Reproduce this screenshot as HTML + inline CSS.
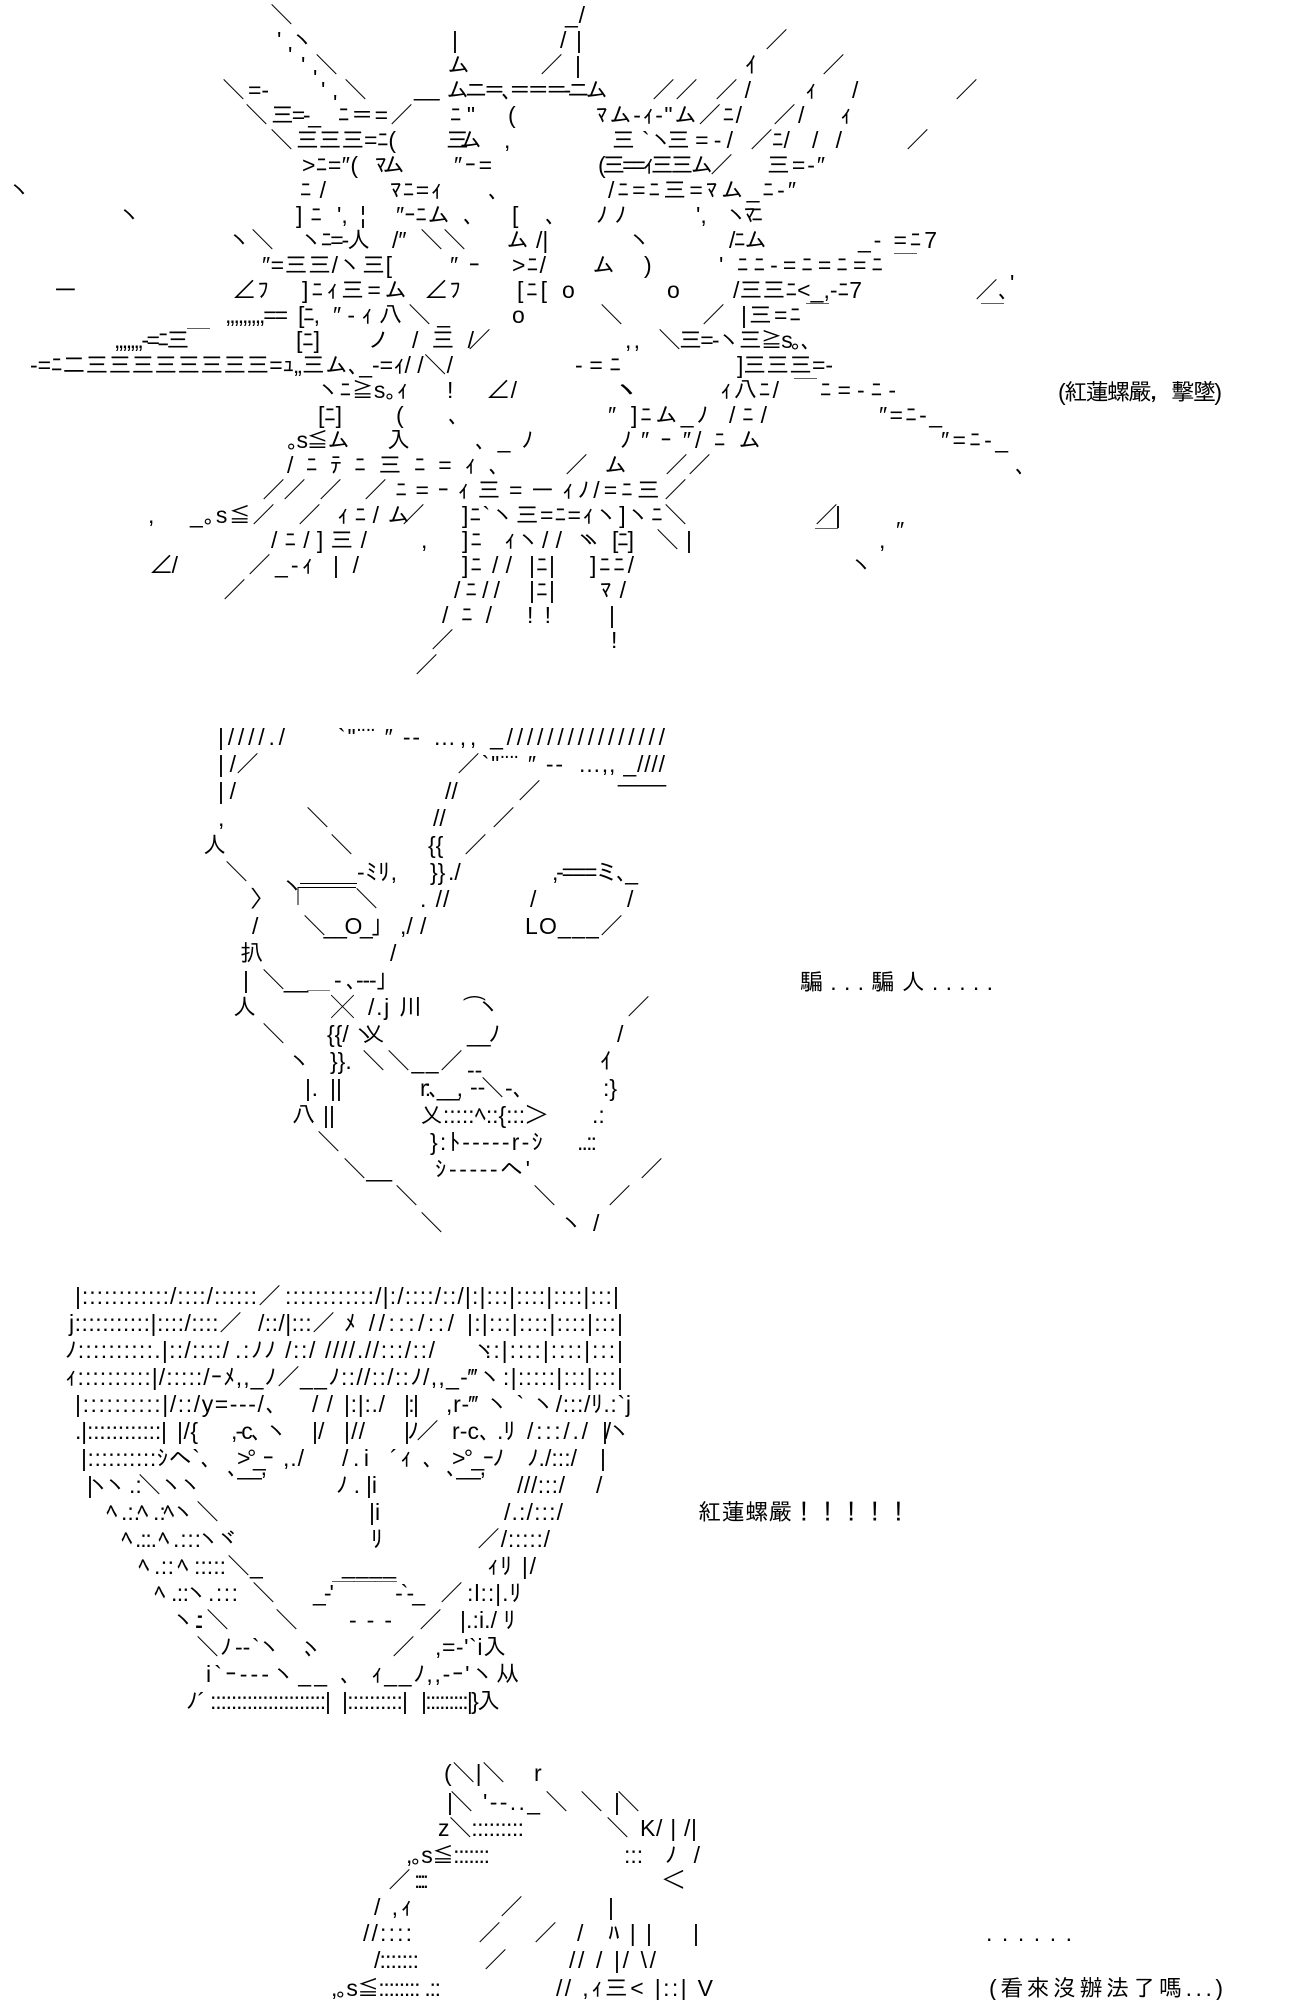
<!DOCTYPE html>
<html><head><meta charset="utf-8"><style>
html,body{margin:0;padding:0;background:#fff;width:1300px;height:2000px;overflow:hidden}
svg{display:block}
text{font-family:"Liberation Sans","IPAGothic","Noto Sans CJK JP",sans-serif;font-size:23px;fill:#000;white-space:pre}
</style></head><body>
<svg xmlns="http://www.w3.org/2000/svg" width="1300" height="2000" viewBox="0 0 1300 2000">
<!-- Section 1 -->
<g transform="translate(0,23)"><text x="270">＼</text><text x="565" textLength="20">_/</text></g>
<g transform="translate(0,48)"><text x="277">'</text><text x="291">ヽ</text><text x="452">|</text><text x="560" textLength="22">/|</text><text x="765">／</text></g>
<g transform="translate(0,73)"><text x="288" y="-10">'</text><text x="301">'</text><text x="315">＼</text><text x="447">ム</text><text x="540">／</text><text x="575">|</text><text x="745">ｲ</text><text x="822">／</text></g>
<g transform="translate(0,98)"><text x="313" y="-12">'</text><text x="321">'</text><text x="333" y="13">'</text><text x="222">＼</text><text x="248">=-</text><text x="344">＼</text><text x="414" y="-2">__</text><text x="446" textLength="162">ムニ＝､＝＝＝-ニム</text><text x="652" textLength="46">／／</text><text x="715" textLength="36">／/</text><text x="805">ｨ</text><text x="852">/</text><text x="955">／</text></g>
<g transform="translate(0,123)"><text x="245">＼</text><text x="271" textLength="50">三=-_</text><text x="338" textLength="50">ﾆ＝=</text><text x="390">／</text><text x="450" textLength="25">ﾆ"</text><text x="508">(</text><text x="596" textLength="146">ﾏム-ｨ‐"ム／ﾆ/</text><text x="773">／</text><text x="798">/</text><text x="840">ｨ</text></g>
<g transform="translate(0,148)"><text x="270">＼</text><text x="296" textLength="100">三三三=ﾆ(</text><text x="446" textLength="36">三ム</text><text x="504">,</text><text x="612">三</text><text x="642">`ヽ</text><text x="667" textLength="66">三=-/</text><text x="750">／</text><text x="772">ﾆ/</text><text x="812" textLength="30">/ /</text><text x="906">／</text></g>
<g transform="translate(0,173)"><text x="302" textLength="56">&gt;ﾆ=″(</text><text x="375" textLength="30">ﾏム</text><text x="454" textLength="38">″ｰ=</text><text x="598" textLength="135">(三==ｨ三三ム／</text><text x="767" textLength="58">三=-″</text></g>
<g transform="translate(0,198)"><text x="8">ヽ</text><text x="300" textLength="26">ﾆ/</text><text x="390" textLength="52">ﾏﾆ=ｨ</text><text x="488">､</text><text x="608" textLength="188">/ﾆ=ﾆ三=ﾏム_ﾆ-″</text></g>
<g transform="translate(0,223)"><text x="118">ヽ</text><text x="296" textLength="26">]ﾆ</text><text x="337">',</text><text x="360">¦</text><text x="396" textLength="54">″ｰﾆム</text><text x="463">､</text><text x="512">[</text><text x="545">､</text><text x="596" textLength="30">ﾉﾉ</text><text x="696">',</text><text x="725" textLength="38">ヽﾏﾆ</text></g>
<g transform="translate(0,248)"><text x="228">ヽ＼</text><text x="300" textLength="70">ヽﾆ=-人</text><text x="392">/″</text><text x="420" textLength="46">＼＼</text><text x="506">ム</text><text x="536">/|</text><text x="628">ヽ</text><text x="729" textLength="38">/ﾆム</text><text x="858" textLength="79">_- =ﾆ7</text></g>
<g transform="translate(0,273)"><text x="262" textLength="130">″=三三/ヽ三[</text><text x="450" textLength="30">″ｰ</text><text x="512" textLength="34">&gt;ﾆ/</text><text x="592">ム</text><text x="644">)</text><text x="719">'</text><text x="737" textLength="146">ﾆﾆ-=ﾆ=ﾆ=ﾆ</text><text x="894">￣</text></g>
<g transform="translate(0,298)"><text x="54">ー</text><text x="233" textLength="36">∠ﾌ</text><text x="302" textLength="105">]ﾆｨ三=ム</text><text x="425" textLength="36">∠ﾌ</text><text x="517" textLength="30">[ﾆ[</text><text x="562">o</text><text x="667">o</text><text x="733" textLength="129">/三三ﾆ&lt;_,-ﾆ7</text><text x="975">／</text><text x="1010" y="-7">'</text><text x="998">､</text></g>
<g transform="translate(0,323)"><text x="225" textLength="63">,,,,,,,,,==</text><text x="298" textLength="22">[ﾆ,</text><text x="333" textLength="117">″-ｨ八＼_</text><text x="512">o</text><text x="600">＼</text><text x="702">／</text><text x="741" textLength="60">|三=ﾆ</text><text x="806">￣</text><text x="981">￣</text></g>
<g transform="translate(0,348)"><text x="114" textLength="96">,,,,,,,-=ﾆ三￣</text><text x="296" textLength="24">[ﾆ]</text><text x="367">ノ</text><text x="412" textLength="62">/三/</text><text x="468">／</text><text x="625" textLength="15">, ,</text><text x="658" textLength="154">＼三=-ヽ三≧s｡､</text></g>
<g transform="translate(0,373)"><text x="30" textLength="423">-=ﾆ二三三三三三三三三=ｭ„三ム､_-=ｨ/ /＼/</text><text x="575" textLength="46">-=ﾆ</text><text x="737" textLength="96">]三三三=-</text></g>
<g transform="translate(0,398)"><text x="317" textLength="91">ヽﾆ≧s｡ｨ</text><text x="447">!</text><text x="487" textLength="30">∠/</text><text x="615" textLength="24">ヽヽ</text><text x="720" textLength="59">ｨ八ﾆ/</text><text x="820" textLength="76">ﾆ=-ﾆ-</text><text x="794">￣</text><text x="1058" y="2" textLength="164">(紅蓮螺嚴，擊墜)</text></g>
<g transform="translate(0,423)"><text x="318" textLength="24">[ﾆ]</text><text x="396">(</text><text x="448">､</text><text x="608">″</text><text x="631" textLength="77">]ﾆム_ﾉ</text><text x="729" textLength="38">/ﾆ/</text><text x="879" textLength="63">″=ﾆ-_</text></g>
<g transform="translate(0,448)"><text x="287" textLength="63">｡s≦ム</text><text x="387">入</text><text x="475" textLength="58">､_ﾉ</text><text x="620">ﾉ</text><text x="641" textLength="50">″ｰ″</text><text x="695" textLength="66">/ﾆム</text><text x="941" textLength="67">″=ﾆ-_</text></g>
<g transform="translate(0,473)"><text x="287" textLength="213">/ﾆﾃﾆ三ﾆ=ｨ､</text><text x="565">／</text><text x="604">ム</text><text x="665">／／</text><text x="1015">､</text></g>
<g transform="translate(0,498)"><text x="262" textLength="44">／／</text><text x="319">／</text><text x="364" textLength="190">／ﾆ=ｰｨ三=ー</text><text x="562" textLength="125">ｨﾉ/=ﾆ三／</text></g>
<g transform="translate(0,523)"><text x="148">,</text><text x="190" textLength="85">_｡s≦／</text><text x="298">／</text><text x="337" textLength="42">ｨﾆ/</text><text x="387" textLength="38">ム／</text><text x="462" textLength="225">]ﾆ`ヽ三=ﾆ=ｨヽ]ヽﾆ＼</text><text x="815" textLength="26">／|</text><text x="815" y="25">￣</text></g>
<g transform="translate(0,548)"><text x="271" textLength="96">/ﾆ/]三/</text><text x="421">,</text><text x="462" textLength="20">]ﾆ</text><text x="504" textLength="36">ｨヽ</text><text x="542" textLength="20">//</text><text x="575" textLength="28">ヽヽ</text><text x="612" textLength="22">[ﾆ]</text><text x="656" textLength="36">＼|</text><text x="896" y="-10">″</text><text x="879">,</text></g>
<g transform="translate(0,573)"><text x="150" textLength="28">∠/</text><text x="248">／</text><text x="275" textLength="38">_-ｨ</text><text x="333" textLength="26">|/</text><text x="462" textLength="20">]ﾆ</text><text x="492" textLength="20">//</text><text x="529" textLength="26">|ﾆ|</text><text x="590" textLength="44">]ﾆﾆ/</text><text x="850">ヽ</text></g>
<g transform="translate(0,598)"><text x="223">／</text><text x="454" textLength="46">/ﾆ//</text><text x="529" textLength="26">|ﾆ|</text><text x="600" textLength="26">ﾏ/</text></g>
<g transform="translate(0,623)"><text x="442" textLength="50">/ﾆ/</text><text x="527" textLength="24">! !</text><text x="609">|</text></g>
<g transform="translate(0,648)"><text x="431">／</text><text x="611">!</text></g>
<g transform="translate(0,673)"><text x="415">／</text></g>

<!-- Section 2 -->
<g transform="translate(0,745)"><text x="218" textLength="67">|////./</text><text x="338" textLength="82">`"¨¨ ″ --</text><text x="433" textLength="232">…,, _////////////////</text></g>
<g transform="translate(0,772)"><text x="218" textLength="18">|/</text><text x="236">／</text><text x="457" textLength="106">／`"¨¨ ″ --</text><text x="578" textLength="87">…,, _////</text></g>
<g transform="translate(0,799)"><text x="218" textLength="18">|/</text><text x="445">//</text><text x="518">／</text><text x="618" y="-17" textLength="48">____</text></g>
<g transform="translate(0,826)"><text x="218">,</text><text x="306">＼</text><text x="433">//</text><text x="492">／</text></g>
<g transform="translate(0,853)"><text x="203">人</text><text x="330">＼</text><text x="428">{{</text><text x="464">／</text></g>
<g transform="translate(0,880)"><text x="225">＼</text><text x="357" textLength="40">‐ﾐﾘ,</text><text x="430">}}</text><text x="448">./</text><text x="552" textLength="86">,-===ミ､_</text></g>
<g transform="translate(0,907)"><text x="250">〉</text><text x="281" y="-13">ヽ</text><text x="355">＼</text><text x="420" textLength="22">./</text><text x="443">/</text><text x="530">/</text><text x="627">/</text></g>
<path d="M300 883.5H357M298 887.5H356M298 887V905" fill="none" stroke="#000" stroke-width="1"/>
<g transform="translate(0,934)"><text x="252">/</text><text x="303" textLength="79">＼__O_｣</text><text x="400">,/</text><text x="420">/</text><text x="525" textLength="98">LO___／</text></g>
<g transform="translate(0,961)"><text x="240" textLength="22">扒</text><text x="390">/</text></g>
<g transform="translate(0,988)"><text x="243">|</text><text x="262" textLength="125">＼__＿ - ､---｣</text></g>
<g transform="translate(0,1015)"><text x="233">人</text><text x="331">╳</text><text x="368" textLength="54">/.j 川</text><text x="463" textLength="37">⌒ヽ</text><text x="627">／</text></g>
<g transform="translate(0,1042)"><text x="327">{{/</text><text x="262">＼</text><text x="353">ヽ</text><text x="362">乂</text><text x="467" textLength="33">__ﾉ</text><text x="617">/</text></g>
<g transform="translate(0,1069)"><text x="288">ヽ</text><text x="330">}}.</text><text x="362">＼</text><text x="387" textLength="76">＼__／</text><text x="600">ｲ</text></g>
<g transform="translate(0,1096)"><text x="305" textLength="13">| .</text><text x="330">||</text><text x="420" textLength="43">r:､__,</text><text x="467" y="-18">--</text><text x="470" y="-1">--</text><text x="481">＼</text><text x="505">-､</text><text x="603">:}</text></g>
<g transform="translate(0,1123)"><text x="292">八</text><text x="323">||</text><text x="420" textLength="128">乂:::::ﾍ::{:::＞</text><text x="592">.:</text></g>
<g transform="translate(0,1150)"><text x="317">＼</text><text x="430" textLength="113">}:ﾄ-----r-ｼ</text><text x="577" textLength="20">..::</text></g>
<g transform="translate(0,1177)"><text x="343" textLength="49">＼__</text><text x="435" textLength="95">ｼ-----ヘ'</text><text x="640">／</text></g>
<g transform="translate(0,1204)"><text x="395">＼</text><text x="533">＼</text><text x="608">／</text></g>
<g transform="translate(0,1231)"><text x="420">＼</text><text x="560">ヽ</text><text x="593">/</text></g>
<text x="800" y="990" textLength="193">騙...騙人.....</text>

<!-- Section 3 -->
<g transform="translate(0,1304)"><text x="75" textLength="206">|::::::::::::/::::/::::::／</text><text x="285" textLength="334">::::::::::::/|:/::::/::/|:|:::|::::|::::|:::|</text></g>
<g transform="translate(0,1331)"><text x="69" textLength="173">j:::::::::::|::::/::::／</text><text x="258" textLength="77">/::/|:::／</text><text x="344" textLength="110">ﾒ //:::/::/</text><text x="467" textLength="156">|:|:::|::::|::::|:::|</text></g>
<g transform="translate(0,1358)"><text x="65" textLength="164">ﾉ::::::::::.|::/::::/</text><text x="235" textLength="200">.:ﾉﾉ /::/ ////.//:::/::/</text><text x="473">ヽ</text><text x="485" textLength="138">::|::::|::::|:::|</text></g>
<g transform="translate(0,1385)"><text x="65" textLength="235">ｨ::::::::::|/:::::/ｰﾒ,,_ﾉ／</text><text x="300" textLength="323">__ﾉ:://::/::ﾉ/,,_-‴ヽ:|:::::|:::|:::|</text></g>
<g transform="translate(0,1412)"><text x="75" textLength="202">|::::::::::|/::/y=---/､</text><text x="312" textLength="21">//</text><text x="344" textLength="41">|:|:./</text><text x="404" textLength="15">|:|</text><text x="446" textLength="185">,r-‴ ヽ ` ヽ/:::/ﾘ.:`j</text></g>
<g transform="translate(0,1439)"><text x="75" textLength="92">.|::::::::::::|</text><text x="177" textLength="21">|/{</text><text x="231" textLength="57">,-c､ ヽ</text><text x="312">|/</text><text x="344" textLength="21">|//</text><text x="404" textLength="35">|ﾉ／</text><text x="452" textLength="63">r-c､ .ﾘ</text><text x="527" textLength="61">/:::/./</text><text x="602" textLength="29">|/ヽ</text></g>
<g transform="translate(0,1466)"><text x="81" textLength="131">|::::::::::ｼヘ`､</text><text x="237" textLength="37">&gt;°_ｰ</text><text x="283" textLength="21">,./</text><text x="342" textLength="27">/.i</text><text x="390" textLength="44">´ｨ ､</text><text x="452" textLength="52">&gt;°_ｰﾉ</text><text x="527" textLength="50">ﾉ./:::/</text><text x="600">|</text></g>
<text x="227" y="1475" textLength="40">､__,</text><text x="446" y="1475" textLength="40">､__,</text>
<g transform="translate(0,1493)"><text x="87">|</text><text x="87">ヽ</text><text x="104">ヽ</text><text x="129">.:</text><text x="138">＼</text><text x="160">ヽ</text><text x="179">ヽ</text><text x="336" textLength="41">ﾉ . |i</text><text x="517" textLength="48">///:::/</text><text x="596">/</text></g>
<g transform="translate(0,1520)"><text x="106">ﾍ</text><text x="121">.:.</text><text x="137">ﾍ</text><text x="153">.:</text><text x="163">ﾍ</text><text x="172">ヽ</text><text x="196">＼</text><text x="369">|i</text><text x="504" textLength="59">/.:/:::/</text></g>
<g transform="translate(0,1547)"><text x="121">ﾍ</text><text x="135" textLength="22">.::.</text><text x="158">ﾍ</text><text x="173" textLength="28">.:::</text><text x="197">ヽ</text><text x="216">ヾ</text><text x="371">ﾘ</text><text x="477" textLength="73">／/:::::/</text></g>
<g transform="translate(0,1574)"><text x="138">ﾍ</text><text x="154" textLength="20">.::</text><text x="177">ﾍ</text><text x="194" textLength="32">:::::</text><text x="227">＼</text><text x="250">_</text><text x="342" textLength="54">____</text><text x="487" textLength="49">ｨﾘ |/</text></g>
<g transform="translate(0,1601)"><text x="154">ﾍ</text><text x="171" textLength="18">.::</text><text x="185">ヽ</text><text x="208" textLength="30">.:::</text><text x="252">＼</text><text x="313" textLength="112">_-'￣￣￣-`-_</text><text x="440">／</text><text x="467" textLength="54">:l::|.ﾘ</text></g>
<g transform="translate(0,1628)"><text x="172">ヽ</text><text x="194" textLength="10">.::</text><text x="206">＼</text><text x="275">＼</text><text x="349" textLength="43">---</text><text x="419">／</text><text x="460" textLength="55">|.:i./ ﾘ</text></g>
<g transform="translate(0,1655)"><text x="196">＼</text><text x="220">ﾉ</text><text x="235">--</text><text x="252">`</text><text x="258">ヽ</text><text x="300" textLength="19">､ ヽ</text><text x="392">／</text><text x="435" textLength="71">,=-'`i入</text></g>
<g transform="translate(0,1682)"><text x="206" textLength="121">i`ｰ---ヽ__</text><text x="340">､</text><text x="371" textLength="148">ｨ__ﾉ,,-ｰ'ヽ从</text></g>
<g transform="translate(0,1709)"><text x="186">ﾉ´</text><text x="210" textLength="121">::::::::::::::::::::::|</text><text x="342" textLength="66">|::::::::::|</text><text x="421" textLength="79">|:::::::::|}入</text></g>
<text x="698" y="1520" textLength="212">紅蓮螺嚴！！！！！</text>

<!-- Section 4 -->
<g transform="translate(0,1781)"><text x="444" textLength="61">(＼|＼</text><text x="534">r</text></g>
<g transform="translate(0,1810)"><text x="447" textLength="26">|＼</text><text x="483" textLength="57">'--.._</text><text x="545">＼</text><text x="580">＼</text><text x="614" textLength="26">|＼</text></g>
<g transform="translate(0,1836)"><text x="438" textLength="86">z＼:::::::::</text><text x="606">＼</text><text x="640" textLength="57">K/ | /|</text></g>
<g transform="translate(0,1863)"><text x="406" textLength="84">,｡s≦:::::::</text><text x="624">:::</text><text x="665" textLength="35">ﾉ/</text></g>
<g transform="translate(0,1888)"><text x="388">／</text><text x="414" textLength="15">::::</text><text x="662">＜</text></g>
<g transform="translate(0,1915)"><text x="374" textLength="38">/ ,ｨ</text><text x="500">／</text><text x="608">|</text></g>
<g transform="translate(0,1941)"><text x="363" textLength="49">//::::</text><text x="478">／</text><text x="534">／</text><text x="577">/</text><text x="608" textLength="44">ﾊ | |</text><text x="693">|</text><text x="986" y="0" textLength="86">......</text></g>
<g transform="translate(0,1968)"><text x="374" textLength="45">/:::::::</text><text x="484">／</text><text x="569" textLength="87">// / |/ \/</text></g>
<g transform="translate(0,1996)"><text x="331" textLength="110">,｡s≦:::::::: .::</text><text x="556" textLength="157">// ,ｨ三&lt; |::| V</text><text x="989" textLength="234">(看來沒辦法了嗎...)</text></g>
</svg>
</body></html>
